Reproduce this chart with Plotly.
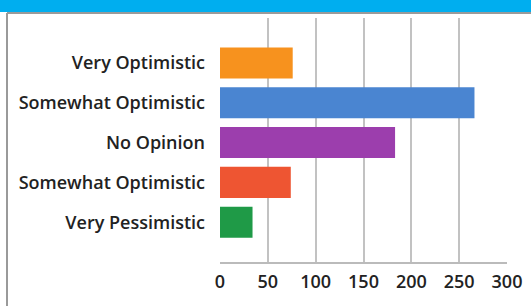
import plotly.graph_objects as go

categories = ["Very Optimistic", "Somewhat Optimistic", "No Opinion", "Somewhat Optimistic", "Very Pessimistic"]
values = [76, 266, 183, 74, 34]
colors = ["#F7921E", "#4A85D1", "#9C3EAD", "#EE5532", "#1F9A47"]
x_ticks = [0, 50, 100, 150, 200, 250, 300]

positions = list(range(len(categories)))

W, H = 531, 306
L, R, T, B = 220, 24, 18, 44
pw, ph = W - L - R, H - T - B

def px_x(x):
    return (x - L) / pw

def px_y(y):
    return (H - B - y) / ph

fig = go.Figure(go.Bar(
    x=values, y=positions, orientation="h",
    marker=dict(color=colors, line=dict(width=0)),
    width=0.78,
))

fig.update_layout(
    width=W, height=H,
    margin=dict(l=L, r=R, t=T, b=B, autoexpand=False),
    paper_bgcolor="white", plot_bgcolor="white",
    showlegend=False,
    font=dict(family="Open Sans", color="#222222"),
    shapes=[
        dict(type="rect", xref="paper", yref="paper", x0=px_x(-5), x1=px_x(W + 5),
             y0=px_y(12), y1=px_y(-5), fillcolor="#00AEEF", line=dict(width=0), layer="above"),
        dict(type="line", xref="paper", yref="paper", x0=px_x(7), x1=px_x(W + 5),
             y0=px_y(13), y1=px_y(13), line=dict(color="#9A9A9A", width=2)),
        dict(type="line", xref="paper", yref="paper", x0=px_x(7), x1=px_x(7),
             y0=px_y(H + 5), y1=px_y(13), line=dict(color="#9A9A9A", width=2)),
    ],
)

fig.update_xaxes(
    range=[0, 300], tickvals=x_ticks, ticktext=[str(v) for v in x_ticks],
    showgrid=True, gridcolor="#C2C2C2", gridwidth=2,
    zeroline=False, showline=True, linecolor="#BBBBBB", linewidth=2,
    tickfont=dict(size=18, family="Open Sans", color="#222222", weight=600),
    ticks="", ticklabelstandoff=2,
)
fig.update_yaxes(
    range=[5.0, -1.13], tickvals=positions, ticktext=categories,
    showgrid=False, zeroline=False, showline=False,
    tickfont=dict(size=18, family="Open Sans", color="#222222", weight=600),
    ticks="", ticklabelstandoff=14,
)

fig.write_html("out.html", config={"displayModeBar": False},
               post_script="document.body.style.margin='0px';")
